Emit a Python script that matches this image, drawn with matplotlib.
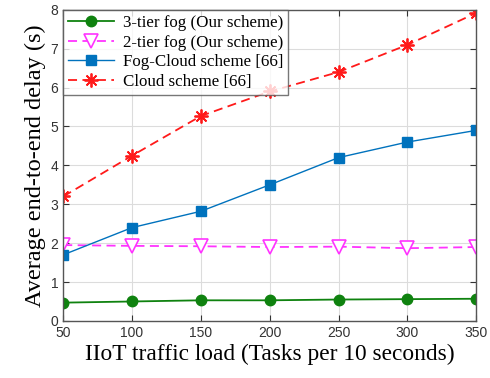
import numpy as np
import matplotlib
matplotlib.use("Agg")
import matplotlib.pyplot as plt

# data
load = [50, 100, 150, 200, 250, 300, 350]
tier3 = [0.47, 0.50, 0.53, 0.53, 0.55, 0.56, 0.57]
tier2 = [1.95, 1.93, 1.92, 1.90, 1.91, 1.87, 1.90]
fogcloud = [1.70, 2.40, 2.82, 3.50, 4.20, 4.60, 4.90]
cloud = [3.20, 4.25, 5.27, 5.90, 6.40, 7.10, 7.92]

labels = ["3-tier fog (Our scheme)", "2-tier fog (Our scheme)",
          "Fog-Cloud scheme [66]", "Cloud scheme [66]"]

fig = plt.figure(figsize=(4.9, 3.78), dpi=100)
ax = fig.add_axes([0.129, 0.151, 0.843, 0.823])

ax.plot(load, tier3, '-o', color='#0f820f', lw=1.3, ms=7.5, label=labels[0])
ax.plot(load, tier2, '--v', color='#ff33ff', lw=1.3, ms=10, mfc='white',
        mec='#ff33ff', mew=1.2, dashes=(5, 3), label=labels[1])
ax.plot(load, fogcloud, '-s', color='#0072bd', lw=1.0, ms=7.5, label=labels[2])
ax.plot(load, cloud, '--', color='#ff1a1a', lw=1.3, marker=(8, 2, 0), ms=10,
        mew=1.3, dashes=(5, 3), label=labels[3])

ax.set_xlim(50, 350)
ax.set_ylim(0, 8)
ax.set_xticks(load)
ax.set_yticks(range(0, 9))
ax.grid(True, color='#dcdcdc', lw=0.8)
ax.tick_params(direction='in', top=True, right=True, labelsize=10,
               colors='#333333', length=4)
for lab in ax.get_xticklabels() + ax.get_yticklabels():
    lab.set_family('Liberation Sans')
for s in ax.spines.values():
    s.set_color('#555555')
    s.set_linewidth(1.0)

ax.set_xlabel("IIoT traffic load (Tasks per 10 seconds)",
              family='Liberation Serif', fontsize=16.8, labelpad=3)
ax.set_ylabel("Average end-to-end delay (s)",
              family='Liberation Serif', fontsize=17.5, labelpad=3)

leg = ax.legend(loc='upper left', prop={'family': 'Liberation Serif', 'size': 12.2},
                fancybox=False, borderaxespad=0, handlelength=2.7,
                borderpad=0.3, labelspacing=0.22, handletextpad=0.5)
leg.get_frame().set_edgecolor('#555555')
leg.get_frame().set_linewidth(1.0)

fig.savefig("out.png", dpi=100)
